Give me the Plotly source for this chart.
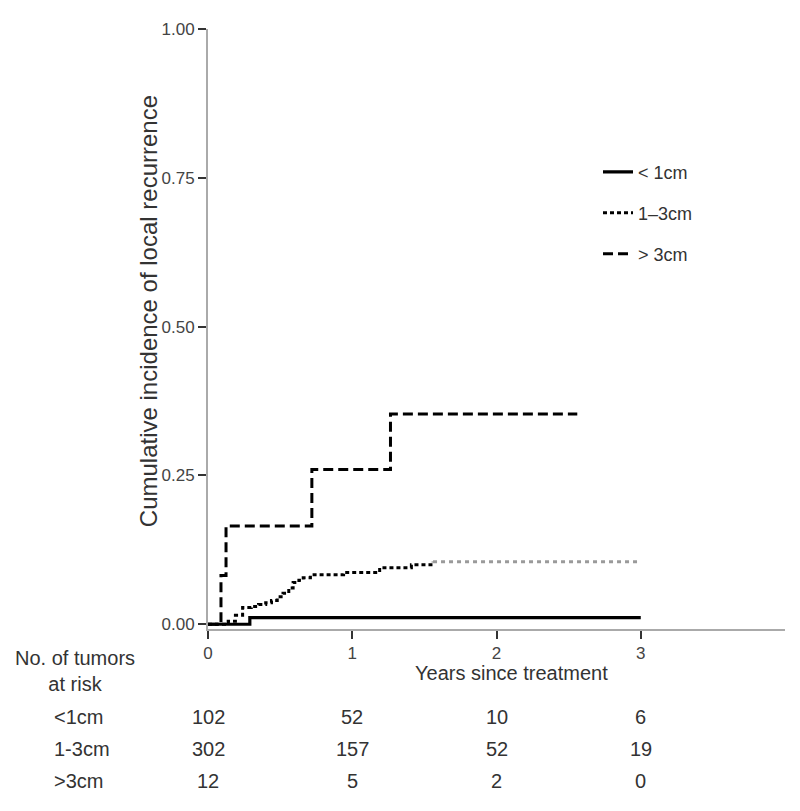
import plotly.graph_objects as go

# ---- data ----
t_lt1 = [0, 0.29, 3.0]
c_lt1 = [0, 0.011, 0.011]

t_13 = [0, 0.14, 0.19, 0.24, 0.30, 0.35, 0.40, 0.44, 0.48, 0.52, 0.56, 0.59, 0.63, 0.66, 0.71, 0.94, 1.19, 1.41, 1.56]
c_13 = [0, 0.005, 0.015, 0.028, 0.030, 0.033, 0.036, 0.040, 0.046, 0.052, 0.061, 0.070, 0.074, 0.078, 0.083, 0.087, 0.095, 0.100, 0.105]
t_13_tail = [1.56, 3.0]
c_13_tail = [0.105, 0.105]

t_gt3 = [0, 0.09, 0.125, 0.72, 1.265, 2.56]
c_gt3 = [0, 0.082, 0.165, 0.26, 0.353, 0.353]

series_names = ["< 1cm", "1\u20133cm", "> 3cm"]

risk_times = [0, 1, 2, 3]
risk_labels = ["<1cm", "1-3cm", ">3cm"]
risk_lt1 = [102, 52, 10, 6]
risk_13 = [302, 157, 52, 19]
risk_gt3 = [12, 5, 2, 0]

y_ticks = [0, 0.25, 0.5, 0.75, 1.0]
x_ticks = [0, 1, 2, 3]

FONT = "Liberation Sans, Arial, sans-serif"
TXT = "#333333"

fig = go.Figure()
fig.add_trace(go.Scatter(x=t_lt1, y=c_lt1, mode="lines", line_shape="hv",
                         name=series_names[0], legendgroup="a",
                         line=dict(color="black", width=3.2)))
fig.add_trace(go.Scatter(x=t_13, y=c_13, mode="lines", line_shape="hv",
                         name=series_names[1], legendgroup="b",
                         line=dict(color="black", width=3, dash="4px,3px")))
fig.add_trace(go.Scatter(x=t_13_tail, y=c_13_tail, mode="lines", line_shape="hv",
                         name=series_names[1], legendgroup="b", showlegend=False,
                         line=dict(color="#9a9a9a", width=2.8, dash="4px,4px")))
fig.add_trace(go.Scatter(x=t_gt3, y=c_gt3, mode="lines", line_shape="hv",
                         name=series_names[2], legendgroup="c",
                         line=dict(color="black", width=3, dash="10px,5px")))

annotations = []
for row, vals in enumerate([risk_lt1, risk_13, risk_gt3]):
    ypix = [718, 750, 783][row]
    yp = (629 - ypix) / 606
    annotations.append(dict(x=-0.2704, y=yp, xref="paper", yref="paper", text=risk_labels[row],
                            showarrow=False, xanchor="left", yanchor="middle",
                            font=dict(size=20, color=TXT, family=FONT)))
    for t, v in zip(risk_times, vals):
        annotations.append(dict(x=t, y=yp, xref="x", yref="paper", text=str(v),
                                showarrow=False, xanchor="center", yanchor="middle",
                                font=dict(size=20, color=TXT, family=FONT)))
annotations.append(dict(x=-0.2305, y=(629 - 671.5) / 606, xref="paper", yref="paper",
                        text="No. of tumors<br>at risk", showarrow=False, align="center",
                        xanchor="center", yanchor="middle",
                        font=dict(size=20, color=TXT, family=FONT)))
annotations.append(dict(x=2.107, y=(629 - 673) / 606, xref="x", yref="paper",
                        text="Years since treatment", showarrow=False,
                        xanchor="center", yanchor="middle",
                        font=dict(size=20, color=TXT, family=FONT)))
annotations.append(dict(x=(148 - 208) / 577, y=(629 - 308) / 606, xref="paper", yref="paper",
                        text="Cumulative incidence of local recurrence", textangle=-90,
                        showarrow=False, xanchor="center", yanchor="middle",
                        font=dict(size=24, color=TXT, family=FONT)))

fig.update_layout(
    width=800, height=811,
    margin=dict(l=200, r=23, t=15, b=190),
    plot_bgcolor="white", paper_bgcolor="white",
    font=dict(family=FONT, color=TXT),
    showlegend=True,
    legend=dict(x=(598 - 208) / 577, y=1 - (149 - 23) / 606, xanchor="left", yanchor="top",
                traceorder="grouped", tracegroupgap=14.5,
                font=dict(size=18, color=TXT, family=FONT),
                bgcolor="rgba(0,0,0,0)"),
    annotations=annotations,
)
fig.update_xaxes(range=[0, 4], tickvals=x_ticks, ticks="outside", ticklen=8, tickwidth=2,
                 tickcolor="#333", showline=True, linecolor="#aaaaaa", linewidth=2,
                 showgrid=False, zeroline=False,
                 tickfont=dict(size=17, color="#444", family=FONT))
fig.update_yaxes(range=[-0.008, 1.0], tickvals=y_ticks, tickformat=".2f", ticks="outside",
                 ticklen=8, tickwidth=2, tickcolor="#333", showline=True,
                 linecolor="#aaaaaa", linewidth=2, showgrid=False, zeroline=False,
                 tickfont=dict(size=17, color="#444", family=FONT))

fig.write_html("out.html")
